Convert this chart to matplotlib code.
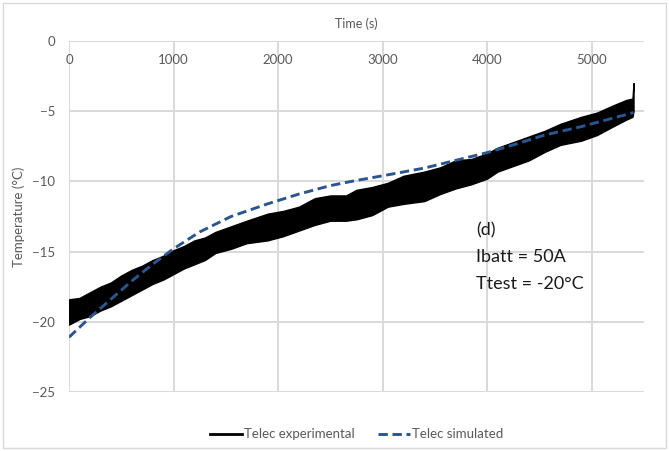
""" Telec experimental vs simulated temperature """
import matplotlib
matplotlib.use("Agg")
import matplotlib.pyplot as plt
from matplotlib.patches import Rectangle

plt.rcParams['font.family'] = ['Lato', 'DejaVu Sans']

t_exp = [0, 100, 200, 300, 400, 500, 600, 700, 800, 900, 1000, 1100, 1200,
         1300, 1400, 1550, 1700, 1900, 2050, 2200, 2350, 2500, 2650, 2750,
         2900, 3050, 3200, 3400, 3550, 3700, 3850, 4000, 4100, 4250, 4400,
         4550, 4700, 4900, 5050, 5200, 5330, 5390, 5400]
exp_hi = [-18.4, -18.3, -17.9, -17.5, -17.2, -16.7, -16.3, -16.0, -15.6, -15.3,
          -14.9, -14.6, -14.2, -14.0, -13.6, -13.2, -12.8, -12.3, -12.1, -11.8,
          -11.2, -11.0, -11.0, -10.6, -10.4, -10.1, -9.6, -9.3, -9.0, -8.5,
          -8.4, -8.0, -7.6, -7.2, -6.8, -6.4, -5.9, -5.4, -5.1, -4.6, -4.2,
          -4.1, -3.0]
exp_lo = [-20.2, -19.8, -19.6, -19.2, -18.9, -18.5, -18.1, -17.7, -17.3, -17.0,
          -16.6, -16.2, -15.9, -15.6, -15.1, -14.8, -14.4, -14.2, -13.9, -13.5,
          -13.1, -12.8, -12.8, -12.7, -12.4, -11.8, -11.6, -11.4, -10.9, -10.5,
          -10.2, -9.8, -9.3, -8.9, -8.5, -7.9, -7.4, -7.1, -6.7, -6.1, -5.6,
          -5.4, -5.0]

# Simulated data
t_sim = [0, 200, 400, 600, 800, 1000, 1250, 1550, 1900, 2200, 2500, 2700,
         3000, 3400, 3700, 4000, 4250, 4550, 4900, 5200, 5400]
sim = [-21.1, -19.7, -18.4, -17.1, -15.9, -14.8, -13.6, -12.5, -11.6, -10.9,
       -10.3, -10.0, -9.6, -9.05, -8.5, -7.95, -7.4, -6.7, -6.1, -5.5, -5.1]

x_ticks = [0, 1000, 2000, 3000, 4000, 5000]
y_ticks = [0, -5, -10, -15, -20, -25]

GRID = '#D9D9D9'
LABEL = '#595959'
BLUE = '#2B5590'

fig = plt.figure(figsize=(6.69, 4.51), dpi=100)
ax = fig.add_axes([0.1031, 0.1308, 0.8595, 0.7783])

ax.fill_between(t_exp, exp_lo, exp_hi, color='black', linewidth=1.0,
                edgecolor='black', zorder=3)
ax.plot([], [], color='black', lw=2, label='Telec experimental')
ax.plot(t_sim, sim, color=BLUE, lw=2.1, linestyle=(0, (3.2, 1.6)),
        label='Telec simulated', zorder=4)

ax.set_xlim(0, 5500)
ax.set_ylim(-25, 0)
ax.set_xticks(x_ticks)
ax.set_yticks(y_ticks)
ax.grid(True, color=GRID, lw=1.4, zorder=0)
ax.set_axisbelow(True)
for s in ax.spines.values():
    s.set_visible(False)

ax.tick_params(axis='x', bottom=False, labelbottom=False, top=True, labeltop=True,
               length=0, pad=-18, labelsize=9.5, labelcolor=LABEL)
ax.tick_params(axis='y', length=0, pad=10, labelsize=9.5, labelcolor=LABEL)

ax.text(0.5, 1.0 + 17 / 351, 'Time (s)', transform=ax.transAxes,
        ha='center', va='center', fontsize=9, color=LABEL)
ax.set_ylabel('Temperature (°C)', fontsize=9.5, color=LABEL, labelpad=5)

ax.text(3895, -15.4, '(d)\nIbatt = 50A\nTtest = -20°C', fontsize=13,
        color='#1A1A1A', ha='left', va='center', linespacing=1.85)

ax.legend(loc='upper center', bbox_to_anchor=(0.5, -0.07), ncol=2,
          frameon=False, fontsize=9.5, handlelength=2.4, handletextpad=0.15,
          columnspacing=1.8, labelcolor=LABEL)

fig.patches.append(Rectangle((0.004, 0.006), 0.992, 0.988, transform=fig.transFigure,
                             fill=False, edgecolor=GRID, lw=1))

fig.savefig('out.png', dpi=100)
